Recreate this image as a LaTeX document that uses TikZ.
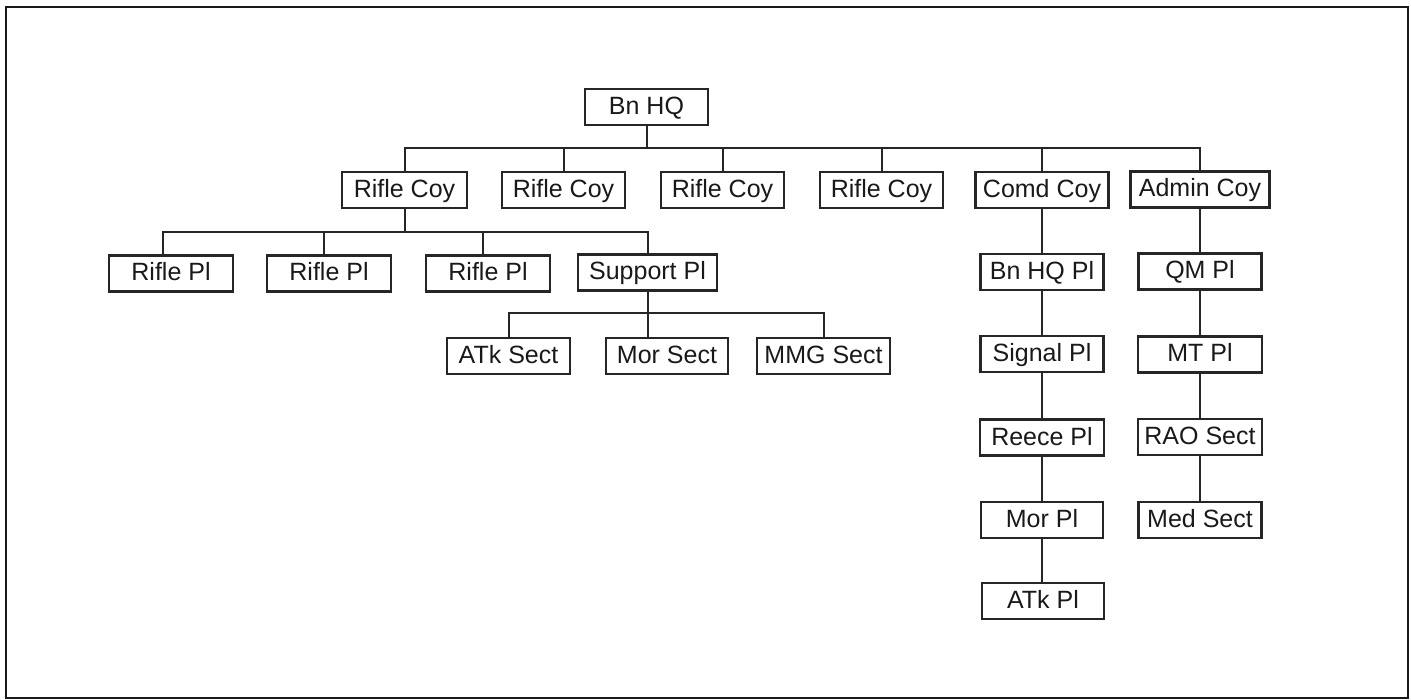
\documentclass[tikz,border=0pt]{standalone}
\usepackage{fontspec}
\setmainfont{Liberation Sans}
\usetikzlibrary{calc}
\begin{document}
\begin{tikzpicture}[x=1pt,y=-1pt,
  box/.style={draw=black!85, line width=2.1pt, minimum height=36pt, inner sep=0pt,
    font=\fontsize{25}{30}\selectfont, text=black!90, text height=19pt, text depth=4pt},
  link/.style={draw=black!85, line width=2pt}]
\useasboundingbox (0,0) rectangle (1411,700);
\draw[line width=2.8pt, black!90] (6,7) rectangle (1408,698);

% top
\node[box, minimum width=123pt] (bnhq) at (646.5,107) {Bn HQ};
\node[box, minimum width=125pt] (rc1) at (404.5,190) {Rifle Coy};
\node[box, minimum width=123pt] (rc2) at (563.5,190) {Rifle Coy};
\node[box, minimum width=123pt] (rc3) at (722.5,190) {Rifle Coy};
\node[box, minimum width=123pt] (rc4) at (881.5,190) {Rifle Coy};
\node[box, minimum width=133pt] (cc) at (1042,190) {Comd Coy};
\node[box, minimum width=139pt] (ac) at (1200,189.5) {Admin Coy};

% platoons
\node[box, minimum width=124pt] (rp1) at (171,273.5) {Rifle Pl};
\node[box, minimum width=124pt] (rp2) at (329,273.5) {Rifle Pl};
\node[box, minimum width=124pt] (rp3) at (488,273.5) {Rifle Pl};
\node[box, minimum width=139pt] (sp) at (647.5,272.5) {Support Pl};

% sections
\node[box, minimum width=123pt] (as) at (508.5,356) {ATk Sect};
\node[box, minimum width=122pt] (ms) at (667,356) {Mor Sect};
\node[box, minimum width=133pt] (mg) at (823.5,356) {MMG Sect};

% comd column
\node[box, minimum width=123pt] (bhp) at (1042,272) {Bn HQ Pl};
\node[box, minimum width=123pt] (sig) at (1042,354) {Signal Pl};
\node[box, minimum width=124pt] (rec) at (1042,437.5) {Reece Pl};
\node[box, minimum width=122pt] (mp) at (1042,520) {Mor Pl};
\node[box, minimum width=122pt] (atp) at (1043,601) {ATk Pl};

% admin column
\node[box, minimum width=123pt] (qm) at (1200,271.5) {QM Pl};
\node[box, minimum width=124pt] (mt) at (1200,354.5) {MT Pl};
\node[box, minimum width=124pt] (rao) at (1200,437) {RAO Sect};
\node[box, minimum width=123pt] (med) at (1200,520) {Med Sect};

\coordinate (b1) at (0,148);
\coordinate (b2) at (0,232);
\coordinate (b3) at (0,313);

% level 1
\draw[link] (bnhq.south) -- (bnhq.south |- b1);
\draw[link] (rc1.north) -- (rc1.north |- b1) -- (ac.north |- b1) -- (ac.north);
\foreach \n in {rc2,rc3,rc4,cc} \draw[link] (\n.north) -- (\n.north |- b1);

% level 2
\draw[link] (rc1.south) -- (rc1.south |- b2);
\draw[link] ($(rp1.north)+(-8,0)$) -- ($(rp1.north |- b2)+(-8,0)$) -- (sp.north |- b2) -- (sp.north);
\draw[link] ($(rp2.north)+(-5,0)$) -- ($(rp2.north |- b2)+(-5,0)$);
\draw[link] ($(rp3.north)+(-5,0)$) -- ($(rp3.north |- b2)+(-5,0)$);

% level 3
\draw[link] (sp.south) -- (sp.south |- ms.north);
\draw[link] (as.north) -- (as.north |- b3) -- (mg.north |- b3) -- (mg.north);

% columns
\draw[link] (cc.south) -- (bhp.north);
\draw[link] (bhp.south) -- (sig.north);
\draw[link] (sig.south) -- (rec.north);
\draw[link] (rec.south) -- (mp.north);
\draw[link] (mp.south) -- (mp.south |- atp.north);
\draw[link] (ac.south) -- (qm.north);
\draw[link] (qm.south) -- (mt.north);
\draw[link] (mt.south) -- (rao.north);
\draw[link] (rao.south) -- (med.north);
\end{tikzpicture}
\end{document}
